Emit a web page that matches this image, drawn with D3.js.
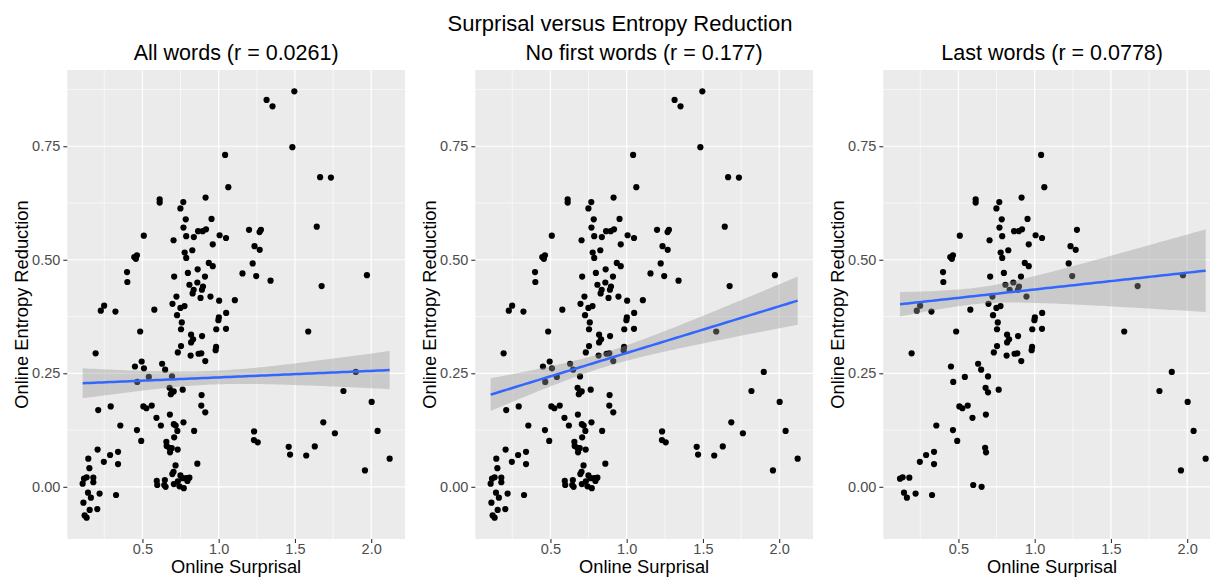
<!DOCTYPE html>
<html>
<head>
<meta charset="utf-8">
<title>Surprisal versus Entropy Reduction</title>
<script src="https://d3js.org/d3.v7.min.js"></script>
<style>
  body { margin: 0; background: #fff; font-family: 'Liberation Sans', Arial, sans-serif; }
  .panel-bg { fill: #ebebeb; }
  .grid-major { stroke: #fff; stroke-width: 1.2; }
  .grid-minor { stroke: #fff; stroke-width: 0.6; }
  .axis path.domain { display: none; }
  .axis line { stroke: #333; stroke-width: 1.1; }
  .axis text { fill: #4d4d4d; font-size: 14.5px; font-family: 'Liberation Sans', Arial, sans-serif; }
  .dot { fill: #000; }
  .band { fill: #999; fill-opacity: 0.4; }
  .fit { fill: none; stroke: #3366ff; stroke-width: 2.5; }
  .title { font-size: 22px; fill: #000; }
  .panel-title { font-size: 21.5px; fill: #000; }
  .axis-title { font-size: 18.3px; fill: #000; }
</style>
</head>
<body>
<div id="chart"></div>
<script>

// Panel titles and axis ticks.
const mainTitle = 'Surprisal versus Entropy Reduction';
const panelTitles = ['All words (r = 0.0261)', 'No first words (r = 0.177)', 'Last words (r = 0.0778)'];
const xTicks = [0.5, 1, 1.5, 2];
const yTicks = [0, 0.25, 0.5, 0.75];

// [online surprisal, online entropy reduction].
const points = [
  [1.496, 0.871], [1.314, 0.852], [1.353, 0.838], [1.483, 0.748], [1.042, 0.731],
  [1.665, 0.682], [1.736, 0.681], [1.063, 0.660], [0.914, 0.637], [0.613, 0.633],
  [0.613, 0.626], [0.768, 0.627], [0.749, 0.613], [0.953, 0.590], [0.784, 0.589],
  [1.643, 0.573], [0.769, 0.571], [0.865, 0.563], [0.895, 0.563], [0.917, 0.567],
  [1.199, 0.566], [1.268, 0.561], [1.277, 0.566], [0.509, 0.553], [0.787, 0.552],
  [0.837, 0.550], [1.006, 0.554], [1.048, 0.548], [0.704, 0.543], [0.961, 0.534],
  [1.235, 0.530], [1.269, 0.522], [0.827, 0.521], [0.446, 0.506], [0.464, 0.510],
  [0.457, 0.502], [0.777, 0.516], [0.787, 0.504], [0.935, 0.493], [0.961, 0.486],
  [1.223, 0.492], [0.399, 0.473], [0.401, 0.451], [0.708, 0.463], [0.798, 0.471],
  [0.862, 0.479], [0.910, 0.463], [1.156, 0.470], [1.246, 0.464], [1.340, 0.454],
  [1.972, 0.466], [0.808, 0.445], [0.860, 0.450], [0.836, 0.434], [0.829, 0.426],
  [0.897, 0.441], [0.890, 0.434], [0.881, 0.416], [1.675, 0.442], [0.723, 0.419],
  [0.946, 0.419], [1.003, 0.410], [1.106, 0.411], [0.697, 0.403], [0.749, 0.394],
  [0.776, 0.398], [0.227, 0.388], [0.249, 0.399], [0.323, 0.386], [0.578, 0.390],
  [0.727, 0.378], [1.049, 0.383], [1.001, 0.373], [0.998, 0.367], [0.758, 0.362],
  [0.753, 0.347], [0.984, 0.347], [1.048, 0.348], [1.587, 0.342], [0.485, 0.342],
  [0.819, 0.335], [0.832, 0.325], [0.819, 0.318], [0.891, 0.332], [0.753, 0.310],
  [0.983, 0.308], [0.980, 0.301], [0.732, 0.296], [0.816, 0.289], [0.868, 0.293],
  [0.886, 0.294], [0.912, 0.277], [0.193, 0.294], [0.495, 0.276], [0.451, 0.265],
  [0.510, 0.261], [0.629, 0.271], [0.649, 0.258], [0.466, 0.231], [0.542, 0.242],
  [0.694, 0.243], [1.899, 0.253], [0.678, 0.218], [0.694, 0.208], [0.705, 0.210],
  [0.686, 0.204], [0.764, 0.214], [1.818, 0.211], [0.888, 0.202], [0.210, 0.169],
  [0.292, 0.177], [0.506, 0.177], [0.526, 0.173], [0.561, 0.179], [0.886, 0.179],
  [0.912, 0.164], [2.003, 0.187], [0.592, 0.152], [0.680, 0.159], [0.621, 0.135],
  [0.706, 0.138], [0.718, 0.135], [0.729, 0.123], [0.769, 0.142], [0.708, 0.109],
  [0.355, 0.135], [0.464, 0.125], [0.839, 0.123], [1.232, 0.122], [1.231, 0.103],
  [1.256, 0.098], [1.686, 0.142], [1.762, 0.118], [2.042, 0.123], [0.492, 0.101],
  [0.657, 0.099], [0.659, 0.090], [0.675, 0.086], [0.692, 0.085], [0.681, 0.076],
  [0.731, 0.082], [1.459, 0.088], [1.468, 0.071], [1.630, 0.089], [1.574, 0.069],
  [2.121, 0.062], [0.206, 0.082], [0.288, 0.070], [0.340, 0.077], [0.247, 0.055],
  [0.145, 0.062], [0.152, 0.041], [0.340, 0.050], [0.717, 0.047], [0.860, 0.051],
  [1.959, 0.036], [0.704, 0.033], [0.696, 0.028], [0.749, 0.025], [0.764, 0.019],
  [0.786, 0.019], [0.808, 0.020], [0.594, 0.013], [0.597, 0.004], [0.647, 0.015],
  [0.643, 0.004], [0.652, 0.000], [0.706, 0.006], [0.732, 0.012], [0.743, 0.001],
  [0.771, -0.003], [0.795, 0.013], [0.117, 0.018], [0.134, 0.021], [0.178, 0.020],
  [0.178, 0.010], [0.108, 0.007], [0.143, -0.013], [0.162, -0.024], [0.219, -0.015],
  [0.327, -0.018], [0.113, -0.035], [0.154, -0.051], [0.204, -0.049], [0.121, -0.063],
  [0.134, -0.068]
];

// Rows of `points` that are last words of a sentence.
const lastWordIndex = [
  4, 7, 8, 9, 10, 11, 12, 13, 14, 16, 17, 18, 19, 22, 23, 24, 26, 27, 28, 29,
  30, 31, 32, 33, 34, 35, 36, 37, 38, 39, 40, 41, 42, 43, 44, 46, 48, 50, 51, 52,
  53, 55, 56, 58, 59, 60, 63, 64, 65, 66, 67, 68, 69, 70, 71, 72, 73, 74, 75, 76,
  77, 78, 79, 80, 81, 82, 83, 84, 85, 86, 87, 88, 89, 90, 91, 92, 94, 96, 97, 98,
  99, 100, 101, 102, 103, 106, 107, 111, 112, 113, 116, 117, 118, 125, 126, 133, 134, 137, 139, 145,
  147, 148, 149, 152, 155, 163, 166, 172, 173, 174, 177, 178, 179, 180
];

// Linear fit per panel (ends of the line) and half-width of the 95% band.
const fitStartX = [0.108, 0.108, 0.117];
const fitEndX = [2.121, 2.121, 2.121];
const fitStartY = [0.228, 0.203, 0.402];
const fitEndY = [0.257, 0.410, 0.476];
const bandMidX = [0.95, 0.85, 0.6];
const bandHalfStart = [0.033, 0.036, 0.027];
const bandHalfMid = [0.015, 0.016, 0.018];
const bandHalfEnd = [0.042, 0.053, 0.091];

const width = 1210;
const height = 577;
const panelLeft = [67.3, 475.3, 883.3];
const panelTop = 70;
const panelWidth = 337.7;
const panelHeight = 469;

const svg = d3.select('#chart')
  .append('svg')
    .attr('width', width)
    .attr('height', height);

// ggplot style 5% padding on each side.
function expand(ext) {
  const pad = (ext[1] - ext[0]) * 0.05;
  return [ext[0] - pad, ext[1] + pad];
}

const x = d3.scaleLinear()
  .domain(expand(d3.extent(points, d => d[0])))
  .range([0, panelWidth]);
const y = d3.scaleLinear()
  .domain(expand(d3.extent(points, d => d[1])))
  .range([panelHeight, 0]);

// Minor breaks sit half way between the major ones.
function minorBreaks(ticks, domain) {
  const step = ticks[1] - ticks[0];
  return ticks.map(t => t - step / 2)
    .concat([ticks[ticks.length - 1] + step / 2])
    .filter(v => v > domain[0] && v < domain[1]);
}

function halfWidth(p, xv) {
  const m = bandMidX[p];
  const hm = bandHalfMid[p];
  const edgeX = xv < m ? fitStartX[p] : fitEndX[p];
  const edgeH = xv < m ? bandHalfStart[p] : bandHalfEnd[p];
  const b = (edgeH * edgeH - hm * hm) / ((edgeX - m) * (edgeX - m));
  return Math.sqrt(hm * hm + b * (xv - m) * (xv - m));
}

function fitY(p, xv) {
  const t = (xv - fitStartX[p]) / (fitEndX[p] - fitStartX[p]);
  return fitStartY[p] + t * (fitEndY[p] - fitStartY[p]);
}

svg.append('text')
  .attr('class', 'title')
  .attr('x', 620)
  .attr('y', 31)
  .attr('text-anchor', 'middle')
  .text(mainTitle);

const panelData = [
  points,
  points,
  lastWordIndex.map(i => points[i])
];

panelTitles.forEach((title, p) => {
  const g = svg.append('g')
    .attr('transform', 'translate(' + panelLeft[p] + ',' + panelTop + ')');

  g.append('rect')
    .attr('class', 'panel-bg')
    .attr('width', panelWidth)
    .attr('height', panelHeight);

  // Gridlines.
  g.selectAll('.gx-minor')
    .data(minorBreaks(xTicks, x.domain()))
    .enter().append('line')
      .attr('class', 'grid-minor')
      .attr('x1', d => x(d)).attr('x2', d => x(d))
      .attr('y1', 0).attr('y2', panelHeight);
  g.selectAll('.gy-minor')
    .data(minorBreaks(yTicks, y.domain()))
    .enter().append('line')
      .attr('class', 'grid-minor')
      .attr('y1', d => y(d)).attr('y2', d => y(d))
      .attr('x1', 0).attr('x2', panelWidth);
  g.selectAll('.gx-major')
    .data(xTicks)
    .enter().append('line')
      .attr('class', 'grid-major')
      .attr('x1', d => x(d)).attr('x2', d => x(d))
      .attr('y1', 0).attr('y2', panelHeight);
  g.selectAll('.gy-major')
    .data(yTicks)
    .enter().append('line')
      .attr('class', 'grid-major')
      .attr('y1', d => y(d)).attr('y2', d => y(d))
      .attr('x1', 0).attr('x2', panelWidth);

  // Points.
  g.append('g').selectAll('circle')
    .data(panelData[p])
    .enter().append('circle')
      .attr('class', 'dot')
      .attr('r', 3.1)
      .attr('cx', d => x(d[0]))
      .attr('cy', d => y(d[1]));

  // Confidence band and fitted line.
  const xs = d3.range(80).map(i => fitStartX[p] + (fitEndX[p] - fitStartX[p]) * i / 79);
  g.append('path')
    .attr('class', 'band')
    .attr('d', d3.area()
      .x(d => x(d))
      .y0(d => y(fitY(p, d) - halfWidth(p, d)))
      .y1(d => y(fitY(p, d) + halfWidth(p, d)))(xs));
  g.append('path')
    .attr('class', 'fit')
    .attr('d', d3.line()
      .x(d => x(d))
      .y(d => y(fitY(p, d)))(xs));

  // Axes.
  g.append('g')
    .attr('class', 'axis')
    .call(d3.axisLeft(y).tickValues(yTicks).tickFormat(d3.format('.2f')).tickSize(4).tickPadding(3));
  g.append('g')
    .attr('class', 'axis')
    .attr('transform', 'translate(0,' + panelHeight + ')')
    .call(d3.axisBottom(x).tickValues(xTicks).tickFormat(d3.format('.1f')).tickSize(4).tickPadding(1));

  // Titles.
  g.append('text')
    .attr('class', 'panel-title')
    .attr('x', panelWidth / 2)
    .attr('y', -10)
    .attr('text-anchor', 'middle')
    .text(title);
  g.append('text')
    .attr('class', 'axis-title')
    .attr('x', panelWidth / 2)
    .attr('y', panelHeight + 34)
    .attr('text-anchor', 'middle')
    .text('Online Surprisal');
  g.append('text')
    .attr('class', 'axis-title')
    .attr('transform', 'translate(-39,' + (panelHeight / 2) + ') rotate(-90)')
    .attr('text-anchor', 'middle')
    .text('Online Entropy Reduction');
});
</script>
</body>
</html>
